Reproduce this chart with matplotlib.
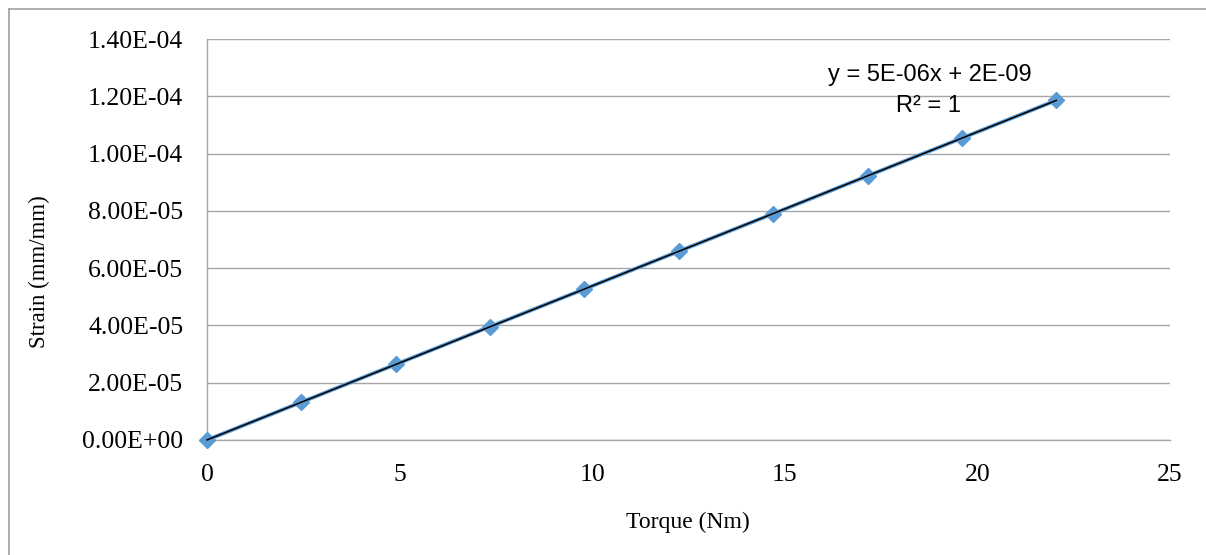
import numpy as np
import matplotlib.pyplot as plt
from matplotlib.lines import Line2D

# Torque vs strain readings
torque = [0, 2.45, 4.9, 7.35, 9.8, 12.25, 14.7, 17.15, 19.6, 22.05]  # [Nm]
strain = [0, 1.32e-5, 2.64e-5, 3.96e-5, 5.27e-5, 6.59e-5, 7.90e-5, 9.22e-5, 1.054e-4, 1.186e-4]  # [mm/mm]
x_ticks = [0, 5, 10, 15, 20, 25]
y_ticks = [0, 2e-5, 4e-5, 6e-5, 8e-5, 1e-4, 1.2e-4, 1.4e-4]

fig = plt.figure(figsize=(12.06, 5.55), dpi=100)
ax = fig.add_axes([207/1206, 1-440/555, (1170-207)/1206, (440-39)/555])

blue = '#5B9BD5'
grid_c = '#a6a6a6'

ax.plot(torque, strain, color=blue, lw=2.8, marker='D', ms=8.5, zorder=3, clip_on=False)

# Linear trendline
slope, icpt = np.polyfit(torque, strain, 1)
xt = np.array([torque[0], torque[-1]])
ax.plot(xt, slope*xt + icpt, color='black', lw=1.1, zorder=4, clip_on=False)

ax.set_xlim(0, 25)
ax.set_ylim(0, 1.4e-4)
ax.set_xticks(x_ticks)
ax.set_yticks(y_ticks)
ax.set_yticklabels(["%.2E" % v for v in y_ticks])
ax.yaxis.grid(True, color=grid_c, lw=1)
ax.set_axisbelow(True)
for s in ['top', 'right']:
    ax.spines[s].set_visible(False)
for s in ['left', 'bottom']:
    ax.spines[s].set_color(grid_c)
    ax.spines[s].set_linewidth(1)
ax.tick_params(length=0, labelsize=18.5)
ax.tick_params(axis='x', pad=17)
ax.tick_params(axis='y', pad=17)
for lab in ax.get_xticklabels() + ax.get_yticklabels():
    lab.set_fontfamily('Liberation Serif')

ax.set_xlabel("Torque (Nm)", fontfamily='Liberation Serif', fontsize=17)
ax.set_ylabel("Strain (mm/mm)", fontfamily='Liberation Serif', fontsize=16.5)
ax.xaxis.set_label_coords(688/1206, 1-522/555, transform=fig.transFigure)
ax.yaxis.set_label_coords(39/1206, 1-272/555, transform=fig.transFigure)
ax.xaxis.label.set_va('center')
ax.yaxis.label.set_va('center')

ax.text(930/1206, 1-75/555, "y = 5E-06x + 2E-09", transform=fig.transFigure,
        ha='center', va='center', fontsize=17, fontfamily='Liberation Sans')
ax.text(928/1206, 1-106/555, "R² = 1", transform=fig.transFigure,
        ha='center', va='center', fontsize=17, fontfamily='Liberation Sans')

# Chart border (only top and left edges visible)
fig.add_artist(Line2D([8.5/1206, 8.5/1206], [0, 1-9/555], transform=fig.transFigure, color='#a0a0a0', lw=1.2))
fig.add_artist(Line2D([8.5/1206, 1], [1-9/555, 1-9/555], transform=fig.transFigure, color='#a0a0a0', lw=1.2))

fig.savefig("out.png", dpi=100)
